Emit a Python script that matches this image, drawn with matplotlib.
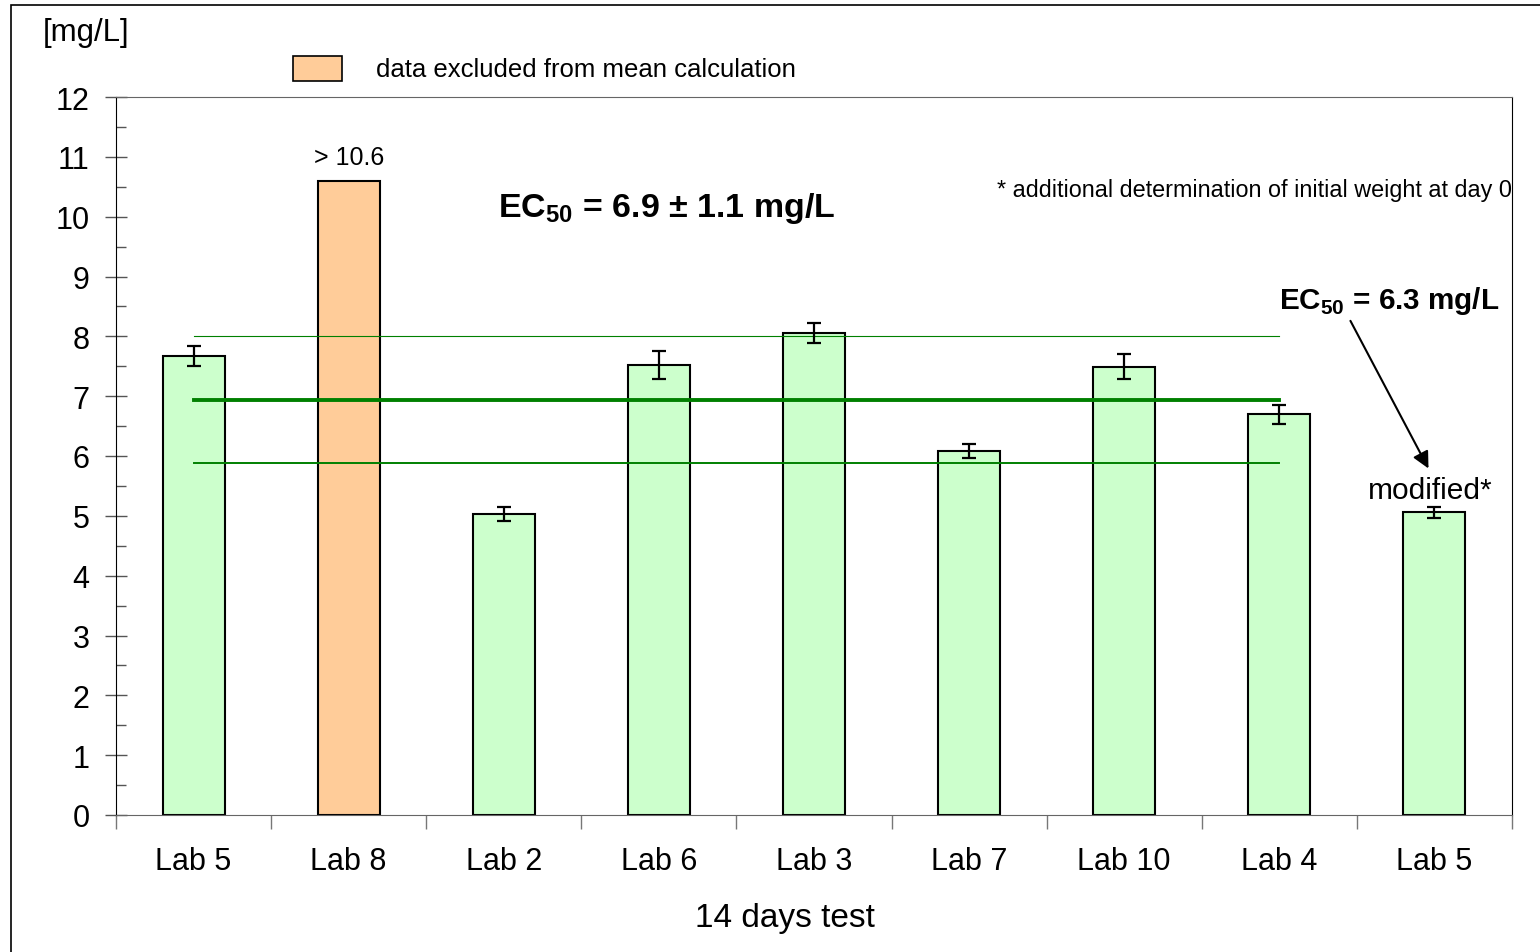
import numpy as np
import matplotlib.pyplot as plt
from matplotlib.patches import Rectangle

plt.rcParams['font.family'] = ['Liberation Sans', 'DejaVu Sans']
plt.rcParams['mathtext.fontset'] = 'custom'
plt.rcParams['mathtext.rm'] = 'Liberation Sans'
plt.rcParams['mathtext.bf'] = 'Liberation Sans:bold'

# data
labs = ['Lab 5', 'Lab 8', 'Lab 2', 'Lab 6', 'Lab 3', 'Lab 7', 'Lab 10', 'Lab 4', 'Lab 5']
ec50 = [7.67, 10.60, 5.03, 7.52, 8.06, 6.08, 7.49, 6.70, 5.06]
sd = [0.17, 0.0, 0.12, 0.24, 0.17, 0.12, 0.21, 0.16, 0.09]
excluded = [False, True, False, False, False, False, False, False, False]
mean_ec50 = 6.93
upper_sd = 8.0
lower_sd = 5.88

W, H = 1540, 953
fig = plt.figure(figsize=(W / 100, H / 100), dpi=100)
ax = fig.add_axes([116 / W, (H - 816) / H, 1396 / W, 718 / H])

x = np.arange(len(labs))
colors = ['#FFCC99' if e else '#CCFFCC' for e in excluded]
ax.bar(x, ec50, width=0.4, color=colors, edgecolor='black', linewidth=1.5, zorder=2)
for xi, v, s, e in zip(x, ec50, sd, excluded):
    if not e:
        ax.errorbar(xi, v, yerr=s, fmt='none', ecolor='black', elinewidth=1.6,
                    capsize=5, capthick=1.6, zorder=4)

# mean and mean +/- SD (excluding Lab 8 and modified test)
ax.plot([0, 7], [upper_sd, upper_sd], color='#008000', lw=0.8, zorder=3)
ax.plot([0, 7], [mean_ec50, mean_ec50], color='#008000', lw=2.8, zorder=3)
ax.plot([0, 7], [lower_sd, lower_sd], color='#008000', lw=1.4, zorder=3)

ax.set_xlim(-0.5, len(labs) - 0.5)
ax.set_ylim(0, 12)
ax.set_yticks(np.arange(0, 13, 1))
ax.set_yticks(np.arange(0.5, 12, 1), minor=True)
ax.tick_params(axis='y', which='major', direction='inout', length=16, width=1,
               labelsize=22, pad=11, color='#555555')
ax.tick_params(axis='y', which='minor', direction='in', length=7, width=1, color='#555555')
ax.set_xticks(np.arange(-0.5, len(labs), 1))
ax.set_xticklabels([])
ax.set_xticks(x, minor=True)
ax.set_xticklabels(labs, minor=True)
ax.tick_params(axis='x', which='major', direction='out', length=10, width=1, color='#777777')
ax.tick_params(axis='x', which='minor', length=0, labelsize=22, pad=22)

for sp in ['top', 'bottom']:
    ax.spines[sp].set_color('#666666')
ax.spines['left'].set_color('black')
ax.spines['right'].set_color('black')

ax.set_xlabel('14 days test', fontsize=24)
ax.xaxis.set_label_coords((785 - 116) / 1396, -(919 - 816) / 718)
ax.xaxis.label.set_va('center')

ax.text(1, 10.8, '> 10.6', ha='center', va='bottom', fontsize=18)
ax.text(3.05, 10.15, r'EC$_{\mathbf{50}}$ = 6.9 ± 1.1 mg/L', ha='center', va='center',
        fontsize=24.5, fontweight='bold')
ax.text(8.5, 10.46, '* additional determination of initial weight at day 0',
        ha='right', va='center', fontsize=16.8)
ax.text(7.0, 8.6, r'EC$_{\mathbf{50}}$ = 6.3 mg/L', ha='left', va='center',
        fontsize=21.3, fontweight='bold')
ax.annotate('', xy=(7.97, 5.75), xytext=(7.45, 8.3),
            arrowprops=dict(arrowstyle='-|>', color='black', lw=1.5, mutation_scale=25))
ax.text(7.97, 5.19, 'modified*', ha='center', va='bottom', fontsize=21.5)

# legend-like key above the plot
fig.patches.append(Rectangle((293 / W, (H - 82) / H), 49 / W, 25 / H, transform=fig.transFigure,
                             facecolor='#FFCC99', edgecolor='black', lw=1.2))
fig.text(376 / W, (H - 70) / H, 'data excluded from mean calculation', fontsize=18.5,
         va='center', ha='left')
fig.text(43 / W, (H - 33) / H, '[mg/L]', fontsize=22.5, va='center', ha='left')

# outer frame
fig.patches.append(Rectangle((11 / W, -0.1), 1.2, (H - 6) / H + 0.1, transform=fig.transFigure,
                             facecolor='none', edgecolor='black', lw=1.2))

fig.savefig('out.png', dpi=100)
